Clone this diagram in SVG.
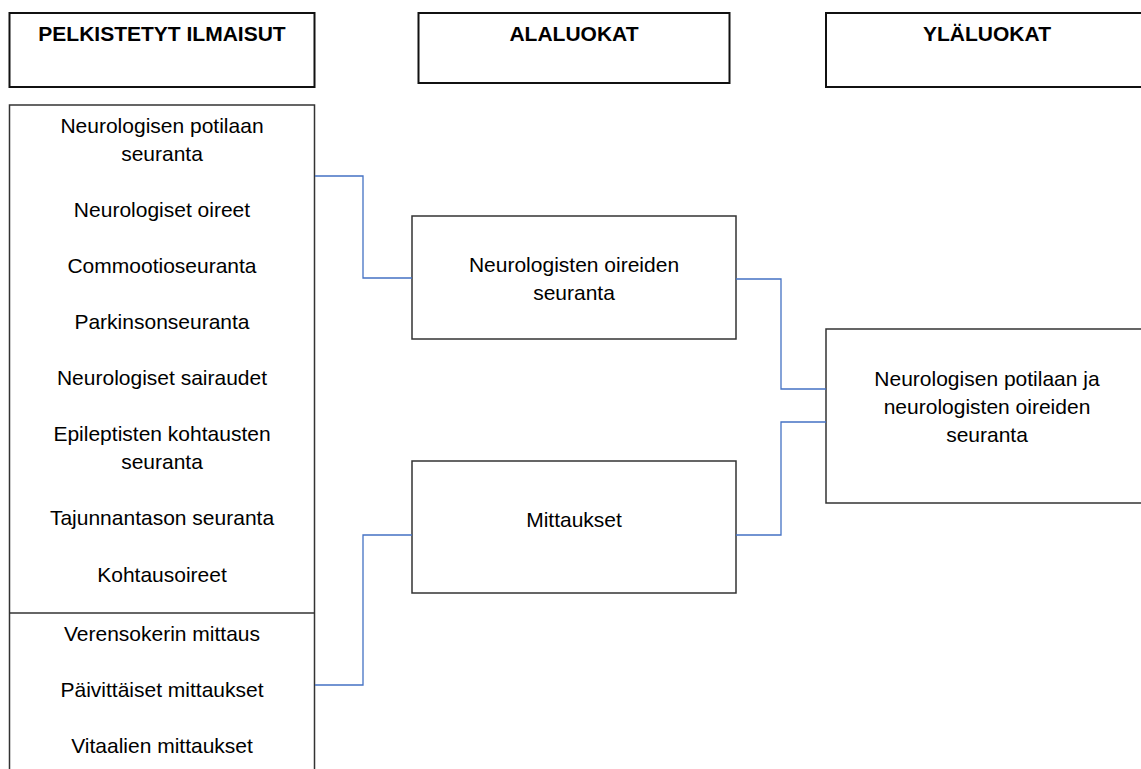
<svg xmlns="http://www.w3.org/2000/svg" width="1141" height="769" viewBox="0 0 1141 769">
  <style>
    text { font-family: "Liberation Sans", Arial, sans-serif; font-size: 21px; fill: #000; text-anchor: middle; }
    .head { font-weight: bold; }
    .hbox { fill: #fff; stroke: #111; stroke-width: 2; }
    .box { fill: #fff; stroke: #333; stroke-width: 1.5; }
    .link { fill: none; stroke: #4472C4; stroke-width: 1.3; }
  </style>
  <rect width="1141" height="769" fill="#fff"/>

  <!-- column headers -->
  <g id="header-pelkistetyt">
    <rect class="hbox" x="9.5" y="13" width="305" height="74"/>
    <text class="head" x="162" y="41">PELKISTETYT ILMAISUT</text>
  </g>
  <g id="header-alaluokat">
    <rect class="hbox" x="418.5" y="13" width="311" height="70"/>
    <text class="head" x="574" y="41">ALALUOKAT</text>
  </g>
  <g id="header-ylaluokat">
    <rect class="hbox" x="826" y="13" width="330" height="74"/>
    <text class="head" x="987" y="41">YLÄLUOKAT</text>
  </g>

  <!-- reduced expressions -->
  <g id="ilmaisut">
    <rect class="box" x="9.5" y="105" width="305" height="680"/>
    <line x1="9.5" y1="613" x2="314.5" y2="613" stroke="#333" stroke-width="1.5"/>
    <text x="162" y="133">Neurologisen potilaan</text>
    <text x="162" y="161">seuranta</text>
    <text x="162" y="217">Neurologiset oireet</text>
    <text x="162" y="273">Commootioseuranta</text>
    <text x="162" y="329">Parkinsonseuranta</text>
    <text x="162" y="385">Neurologiset sairaudet</text>
    <text x="162" y="441">Epileptisten kohtausten</text>
    <text x="162" y="469">seuranta</text>
    <text x="162" y="525">Tajunnantason seuranta</text>
    <text x="162" y="582">Kohtausoireet</text>
    <text x="162" y="641">Verensokerin mittaus</text>
    <text x="162" y="697">Päivittäiset mittaukset</text>
    <text x="162" y="753">Vitaalien mittaukset</text>
  </g>

  <!-- subcategories -->
  <g id="alaluokka-oireet">
    <rect class="box" x="412" y="216" width="324" height="123"/>
    <text x="574" y="272">Neurologisten oireiden</text>
    <text x="574" y="300">seuranta</text>
  </g>
  <g id="alaluokka-mittaukset">
    <rect class="box" x="412" y="461" width="324" height="132"/>
    <text x="574" y="527">Mittaukset</text>
  </g>

  <!-- main category -->
  <g id="ylaluokka">
    <rect class="box" x="826" y="329" width="330" height="174"/>
    <text x="987" y="386">Neurologisen potilaan ja</text>
    <text x="987" y="414">neurologisten oireiden</text>
    <text x="987" y="442">seuranta</text>
  </g>

  <!-- elbow connectors -->
  <g id="connectors">
    <polyline class="link" points="315,176 363,176 363,278 412,278"/>
    <polyline class="link" points="315,685 363,685 363,535 412,535"/>
    <polyline class="link" points="736,279 781,279 781,389 826,389"/>
    <polyline class="link" points="736,535 781,535 781,422 826,422"/>
  </g>
</svg>
